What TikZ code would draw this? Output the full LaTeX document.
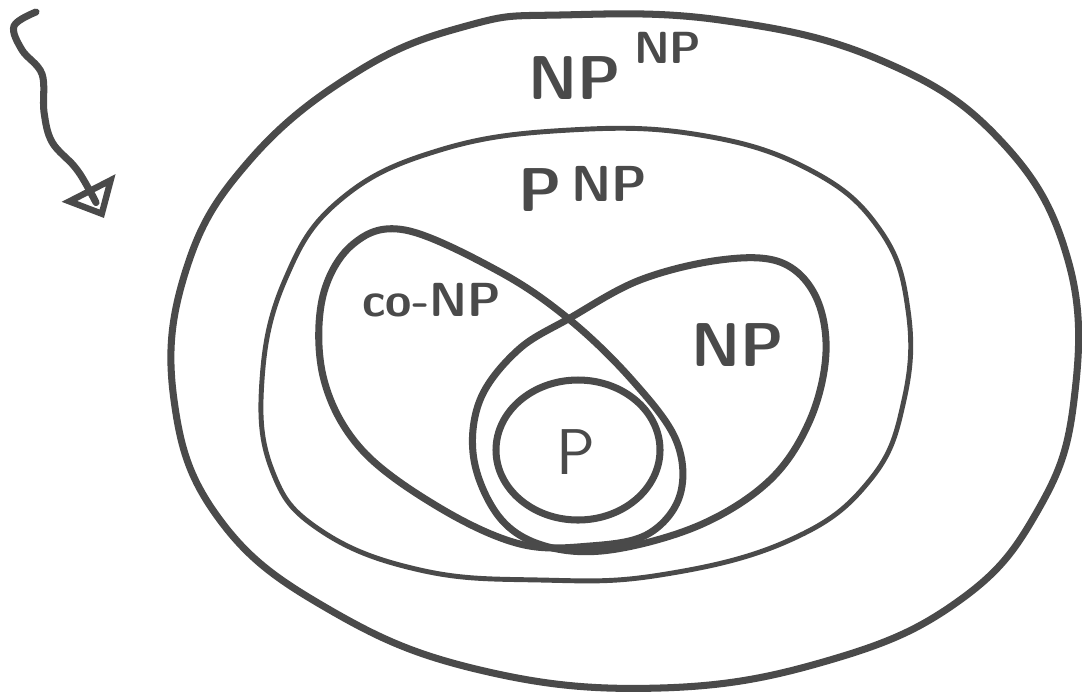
\documentclass[tikz,border=0pt]{standalone}
\usepackage{tikz}
\usetikzlibrary{positioning,arrows.meta}
\definecolor{inkGray}{HTML}{4A4A4A}
\begin{document}
\begin{tikzpicture}[x=0.025cm, y=-0.025cm]
\tikzstyle{set}=[draw=inkGray, line width=5pt, line join=round]
\tikzstyle{thinset}=[draw=inkGray, line width=3.5pt, line join=round]
\tikzstyle{label}=[text=inkGray, font=\sffamily\bfseries\fontsize{44}{46}\selectfont]
\useasboundingbox (0,0) rectangle (1082,693);
% outer class
\draw[set] plot[smooth cycle, tension=0.7] coordinates {(560,15) (720,20) (880,60) (1000,140) (1068,260) (1074,400) (1038,510) (960,600) (830,660) (660,688) (480,670) (330,610) (220,520) (174,400) (186,270) (250,160) (360,70) (470,25)};
% second class
\draw[thinset] plot[smooth cycle, tension=0.7] coordinates {(570,130) (700,135) (810,170) (880,230) (908,310) (904,400) (870,480) (790,540) (660,575) (540,580) (420,570) (320,530) (272,470) (262,380) (285,280) (340,200) (440,150)};
% co-NP lobe
\draw[set] plot[smooth cycle, tension=0.6] coordinates {(405,230) (500,272) (570,320) (632,380) (676,440) (680,495) (648,534) (590,546) (520,544) (440,508) (362,450) (324,380) (322,300) (352,245)};
% NP lobe
\draw[set] plot[smooth cycle, tension=0.6] coordinates {(570,318) (640,280) (720,260) (780,262) (815,295) (826,352) (810,420) (770,480) (700,525) (610,550) (545,546) (500,518) (474,460) (480,400) (518,350)};
% P
\draw[set] (578,450) circle[x radius=82, y radius=70];
% arrow
\coordinate (wstart) at (36,12);
\coordinate (wend) at (104,218);
\draw[set, line cap=round, -{Triangle[open, length=24pt, width=42pt, line width=4.5pt]}] plot[smooth, tension=0.6] coordinates {(wstart) (14,26) (22,50) (42,74) (44,112) (52,142) (74,166) (86,184) (wend)};
% labels
\node[label] (npnp) at (575,78) {NP};
\node[label, font=\sffamily\bfseries\fontsize{32}{34}\selectfont, anchor=south west] (npsup) at ([xshift=2pt, yshift=-12pt]npnp.north east) {NP};
\node[label] (pnp) at (540,190) {P};
\node[label, font=\sffamily\bfseries\fontsize{36}{38}\selectfont, anchor=west] (pnpsup) at ([xshift=0pt, yshift=4pt]pnp.east) {NP};
\node[label, font=\sffamily\bfseries\fontsize{34}{36}\selectfont] (conp) at (432,300) {co-NP};
\node[label] (np) at (738,345) {NP};
\node[label, font=\sffamily\fontsize{46}{48}\selectfont] (p) at (576,452) {P};
\end{tikzpicture}
\end{document}
